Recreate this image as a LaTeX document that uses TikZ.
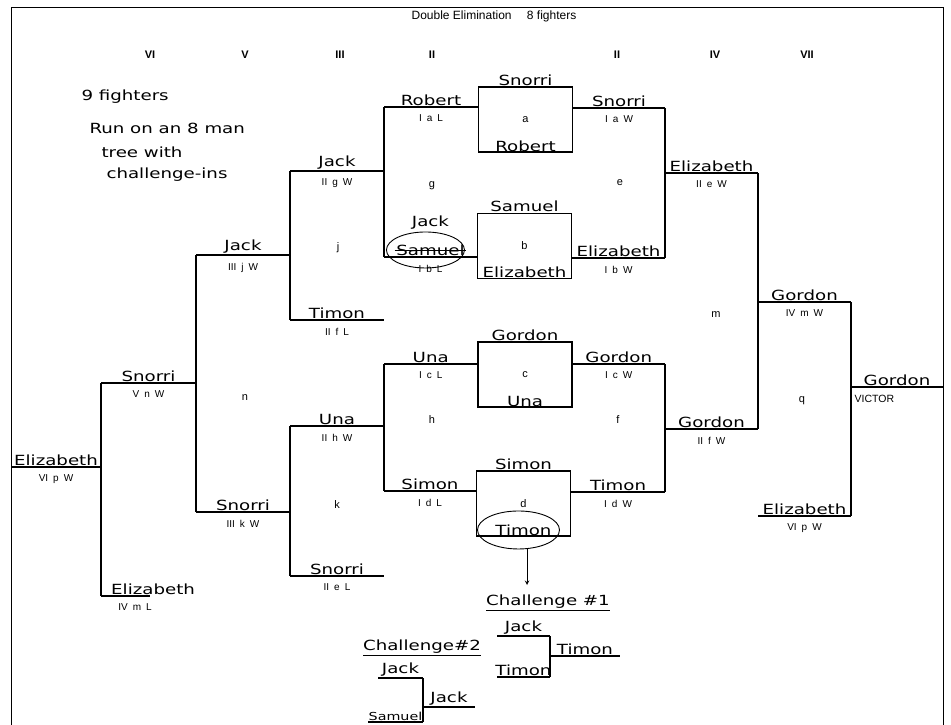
\documentclass[tikz,border=0pt]{standalone}
\usepackage{fontspec}
\setmainfont{Liberation Sans}
\newfontfamily\handfont[FakeStretch=1.3]{DejaVu Sans}
\newcommand{\tagfont}{\fontsize{10}{10}\selectfont\spaceskip=0.5em\relax}
\usepackage{tikz}
\usetikzlibrary{shapes.geometric, arrows, positioning}

\begin{document}
\begin{tikzpicture}[x=1pt, y=-1pt,
  bar/.style={line width=1.2pt},
  hand/.style={font=\handfont\fontsize{14}{14}\selectfont},
  who/.style={hand, above, inner sep=1pt},
  tag/.style={below, inner sep=7.5pt, font=\tagfont},
  game/.style={font=\fontsize{11}{11}\selectfont},
  round/.style={font=\bfseries\fontsize{11}{11}\selectfont},
  match/.style={rectangle, draw, line width=1.2pt, minimum width=94pt,
                minimum height=65pt, inner sep=0pt, font=\fontsize{11}{11}\selectfont},
  ring/.style={ellipse, draw, line width=0.9pt,
               minimum width=78pt, minimum height=36pt},
  arrow/.style={->, >=stealth, line width=1pt}
]
\useasboundingbox (0,0) rectangle (951,725);
\draw[line width=1pt] (11,725) -- (11,8) -- (943,8) -- (943,725);

\node[font=\fontsize{12}{12}\selectfont] (title) at (494,16) {Double Elimination\quad\ 8 fighters};

% round numbers
\node[round] (rVI) at (150,55) {VI};
\node[round] (rV) at (245,55) {V};
\node[round] (rIII) at (340,55) {III};
\node[round] (rIIa) at (432,55) {II};
\node[round] (rIIb) at (617,55) {II};
\node[round] (rIV) at (715,55) {IV};
\node[round] (rVII) at (807,55) {VII};

% note
\node[hand, anchor=west] (note1) at (78,97) {9 fighters};
\node[hand, anchor=west] (note2) at (86,128) {Run on an 8 man};
\node[hand, anchor=west] (note3) at (98,152) {tree with};
\node[hand, anchor=west] (note4) at (103,175) {challenge-ins};

% first round
\node[match] (ma) at (525.5,119.5) {a};
\node[who] (maTop) at (ma.north) {Snorri};
\node[who] (maBot) at (ma.south) {Robert};
\node[match] (mb) at (524.5,246) {b};
\node[who] (mbTop) at (mb.north) {Samuel};
\node[who] (mbBot) at (mb.south) {Elizabeth};
\node[match] (mc) at (525,374.5) {c};
\node[who] (mcTop) at (mc.north) {Gordon};
\node[who] (mcBot) at (mc.south) {Una};
\node[match] (md) at (523.5,503.5) {d};
\node[who] (mdTop) at (md.north) {Simon};
\node[who] (mdBot) at (md.south) {Timon};
\node[ring, minimum width=82pt, minimum height=38pt] (mdRing) at ([xshift=-5pt]mdBot.center) {};

% losers, round II
\coordinate (robA) at (384,107);
\draw[bar] (robA) -- node[who] (rob) {Robert} node[tag] (robT) {I a L} (robA -| ma.west);
\coordinate (samA) at (384,257);
\draw[bar] (samA) -- node[who] (sam) {Samuel} node[tag] (samT) {I b L} (samA -| mb.west);
\draw[line width=0.8pt] (sam.west) -- (sam.east);
\node[who, above=12pt of sam] (samJack) {Jack};
\node[ring] (samRing) at ([xshift=-5pt]sam.center) {};
\coordinate (unaA) at (384,364);
\draw[bar] (unaA) -- node[who] (una) {Una} node[tag] (unaT) {I c L} (unaA -| mc.west);
\coordinate (simA) at (384,491);
\draw[bar] (simA) -- node[who] (sim) {Simon} node[tag] (simT) {I d L} (simA -| md.west);
\draw[bar] (robA) -- (samA);
\draw[bar] (unaA) -- (simA);
\node[game] (gg) at (432,186) {g};
\node[game] (gh) at (432,420) {h};

% losers, round III
\coordinate (jakA) at (290,171);
\draw[bar] (jakA) -- node[who] (jak) {Jack} node[tag] (jakT) {II g W} (jakA -| robA);
\coordinate (timA) at (290,320);
\draw[bar] (timA) -- node[who] (tim) {Timon} node[tag] (timT) {II f L} (timA -| robA);
\coordinate (un2A) at (290,426);
\draw[bar] (un2A) -- node[who] (un2) {Una} node[tag] (un2T) {II h W} (un2A -| unaA);
\coordinate (sn2A) at (290,576);
\draw[bar] (sn2A) -- node[who] (sn2) {Snorri} node[tag] (sn2T) {II e L} (sn2A -| unaA);
\draw[bar] (jakA) -- (timA);
\draw[bar] (un2A) -- (sn2A);
\node[game] (gj) at (338,248) {j};
\node[game] (gk) at (337,505) {k};

% losers, round V
\coordinate (jk3A) at (196,255);
\draw[bar] (jk3A) -- node[who] (jk3) {Jack} node[tag] (jk3T) {III j W} (jk3A -| jakA);
\coordinate (sn3A) at (196,512);
\draw[bar] (sn3A) -- node[who] (sn3) {Snorri} node[tag] (sn3T) {III k W} (sn3A -| jakA);
\draw[bar] (jk3A) -- (sn3A);
\node[game] (gn) at (245,398) {n};

% losers, round VI
\coordinate (sn5A) at (101,383);
\draw[bar] (sn5A) -- node[who] (sn5) {Snorri} node[tag] (sn5T) {V n W} (sn5A -| jk3A);
\coordinate (el4A) at (101,596);
\coordinate (el4B) at (150,596);
\draw[bar] (el4A) -- (el4B);
\node[who, anchor=south west] (el4) at (110,596) {Elizabeth};
\node[tag] (el4T) at (135,596) {IV m L};
\draw[bar] (sn5A) -- (el4A);
\coordinate (el6A) at (11,467);
\draw[bar] (el6A) -- node[who] (el6) {Elizabeth} node[tag] (el6T) {VI p W} (el6A -| sn5A);

% winners, round II
\coordinate (snWB) at (665,108);
\draw[bar] (snWB -| ma.east) -- node[who] (snW) {Snorri} node[tag] (snWT) {I a W} (snWB);
\coordinate (elWB) at (665,258);
\draw[bar] (elWB -| mb.east) -- node[who] (elW) {Elizabeth} node[tag] (elWT) {I b W} (elWB);
\coordinate (goWB) at (665,364);
\draw[bar] (goWB -| mc.east) -- node[who] (goW) {Gordon} node[tag] (goWT) {I c W} (goWB);
\coordinate (tiWB) at (665,492);
\draw[bar] (tiWB -| md.east) -- node[who] (tiW) {Timon} node[tag] (tiWT) {I d W} (tiWB);
\draw[bar] (snWB) -- (elWB);
\draw[bar] (goWB) -- (tiWB);
\node[game] (ge) at (620,183) {e};
\node[game] (gf) at (618,420) {f};

% winners, round IV
\coordinate (el2B) at (758,173);
\draw[bar] (el2B -| snWB) -- node[who] (el2) {Elizabeth} node[tag] (el2T) {II e W} (el2B);
\coordinate (go2B) at (758,429);
\draw[bar] (go2B -| snWB) -- node[who] (go2) {Gordon} node[tag] (go2T) {II f W} (go2B);
\draw[bar] (el2B) -- (go2B);
\node[game] (gm) at (716,315) {m};

% final, round VII
\coordinate (go4B) at (851,302);
\draw[bar] (go4B -| el2B) -- node[who] (go4) {Gordon} node[tag] (go4T) {IV m W} (go4B);
\coordinate (el7B) at (851,516);
\draw[bar] (el7B -| el2B) -- node[who] (el7) {Elizabeth} node[tag] (el7T) {VI p W} (el7B);
\draw[bar] (go4B) -- (el7B);
\node[game] (gq) at (802,401) {q};
\coordinate (vicB) at (943,387);
\draw[bar] (vicB -| go4B) -- node[who] (vic) {Gordon} (vicB);
\node[tag, anchor=north west, font=\fontsize{10.5}{10.5}\selectfont] (vicT) at (847,387) {VICTOR};

% challenge #1
\coordinate (arrEnd) at (527,585);
\draw[arrow] (mdRing.south -| arrEnd) -- (arrEnd);
\node[hand] (ch1) at (548,603) {\underline{Challenge \#1}};
\coordinate (c1x) at (550,656);
\coordinate (c1a) at (497,636);
\coordinate (c1b) at (497,677);
\coordinate (c1w) at (620,656);
\draw[bar] (c1a) -- node[who] (c1j) {Jack} (c1a -| c1x);
\draw[bar] (c1b) -- node[who] (c1t) {Timon} (c1b -| c1x);
\draw[bar] (c1a -| c1x) -- (c1b -| c1x);
\draw[bar] (c1x) -- node[who] (c1win) {Timon} (c1w);

% challenge #2
\node[hand] (ch2) at (422,648) {\underline{Challenge\#2}};
\coordinate (c2x) at (423,707);
\coordinate (c2a) at (378,678);
\coordinate (c2b) at (368,722);
\coordinate (c2w) at (475,707);
\draw[bar] (c2a) -- node[who] (c2j) {Jack} (c2a -| c2x);
\draw[bar] (c2b) -- node[who, font=\handfont\fontsize{11}{11}\selectfont] (c2s) {Samuel} (c2b -| c2x);
\draw[bar] (c2a -| c2x) -- (c2b -| c2x);
\draw[bar] (c2x) -- node[who] (c2win) {Jack} (c2w);
\end{tikzpicture}
\end{document}
